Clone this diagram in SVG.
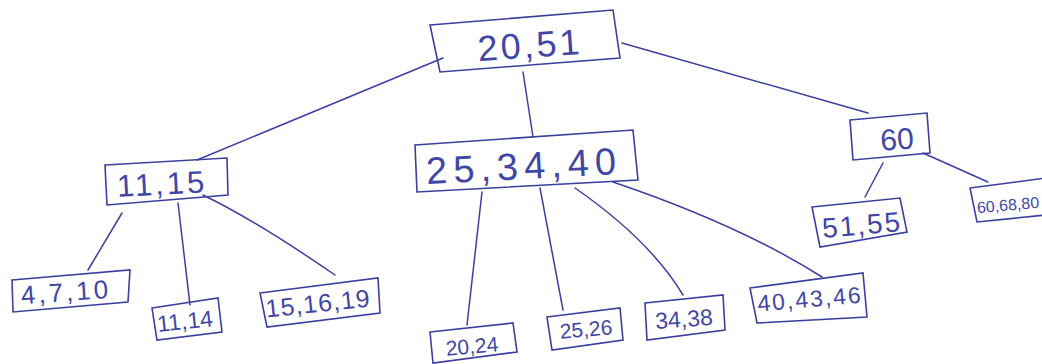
<svg xmlns="http://www.w3.org/2000/svg" width="1042" height="364" viewBox="0 0 1042 364">
<style>
.box{fill:none;stroke:#3b3f9e;stroke-width:1.6;stroke-linejoin:miter}
.edge{fill:none;stroke:#3b3f9e;stroke-width:1.5;stroke-linecap:round}
.t{font-family:"Liberation Sans",Arial,sans-serif;fill:#4146a6;text-anchor:middle;dominant-baseline:central}
</style>
<rect width="1042" height="364" fill="#ffffff"/>
<g id="connectors">
<path class="edge" d="M443,58 L197,160"/>
<path class="edge" d="M523,72 L533,137"/>
<path class="edge" d="M622,43 L868,113"/>
<path class="edge" d="M122,213 L88,270"/>
<path class="edge" d="M178,203 L190,305"/>
<path class="edge" d="M203,195 Q255,220 335,275"/>
<path class="edge" d="M482,192 L467,325"/>
<path class="edge" d="M540,188 L563,310"/>
<path class="edge" d="M575,188 Q650,240 683,295"/>
<path class="edge" d="M613,182 Q740,225 822,277"/>
<path class="edge" d="M883,163 L865,197"/>
<path class="edge" d="M923,153 L988,182"/>
</g>
<g id="n2051"><polygon class="box" points="430,25 613,10 620,58 440,72"/><text class="t" x="530" y="45" font-size="36" letter-spacing="3" transform="rotate(-4 530 45)">20,51</text></g>
<g id="n1115"><polygon class="box" points="105,165 227,158 228,195 107,205"/><text class="t" x="162" y="184" font-size="31" letter-spacing="3" transform="rotate(-3 162 184)">11,15</text></g>
<g id="n253440"><polygon class="box" points="415,145 633,130 638,180 417,192"/><text class="t" x="524" y="166" font-size="38" letter-spacing="6" transform="rotate(-3 524 166)">25,34,40</text></g>
<g id="n60"><polygon class="box" points="850,120 927,113 930,153 853,160"/><text class="t" x="897" y="139" font-size="30" transform="rotate(-4 897 139)">60</text></g>
<g id="n5155"><polygon class="box" points="812,207 900,198 907,232 820,247"/><text class="t" x="862" y="225" font-size="28" letter-spacing="2" transform="rotate(-5 862 225)">51,55</text></g>
<g id="n606880"><polygon class="box" points="970,188 1046,178 1046,215 977,222"/><text class="t" x="1008" y="205" font-size="16" transform="rotate(-5 1008 205)">60,68,80</text></g>
<g id="n4710"><polygon class="box" points="12,280 130,270 128,302 13,312"/><text class="t" x="66" y="292" font-size="26" letter-spacing="3" transform="rotate(-4 66 292)">4,7,10</text></g>
<g id="n1114"><polygon class="box" points="152,308 218,298 222,332 157,340"/><text class="t" x="185" y="321" font-size="23" transform="rotate(-6 185 321)">11,14</text></g>
<g id="n151619"><polygon class="box" points="260,293 378,278 380,313 267,327"/><text class="t" x="318" y="303" font-size="25" letter-spacing="1" transform="rotate(-6 318 303)">15,16,19</text></g>
<g id="n2024"><polygon class="box" points="430,332 513,323 517,352 433,363"/><text class="t" x="472" y="346" font-size="21" transform="rotate(-5 472 346)">20,24</text></g>
<g id="n2526"><polygon class="box" points="547,317 620,308 623,340 552,350"/><text class="t" x="586" y="329" font-size="21" transform="rotate(-5 586 329)">25,26</text></g>
<g id="n3438"><polygon class="box" points="645,303 723,295 725,330 647,340"/><text class="t" x="684" y="319" font-size="23" transform="rotate(-4 684 319)">34,38</text></g>
<g id="n404346"><polygon class="box" points="750,288 863,273 867,317 757,323"/><text class="t" x="810" y="299" font-size="23" letter-spacing="2" transform="rotate(-5 810 299)">40,43,46</text></g>
</svg>
